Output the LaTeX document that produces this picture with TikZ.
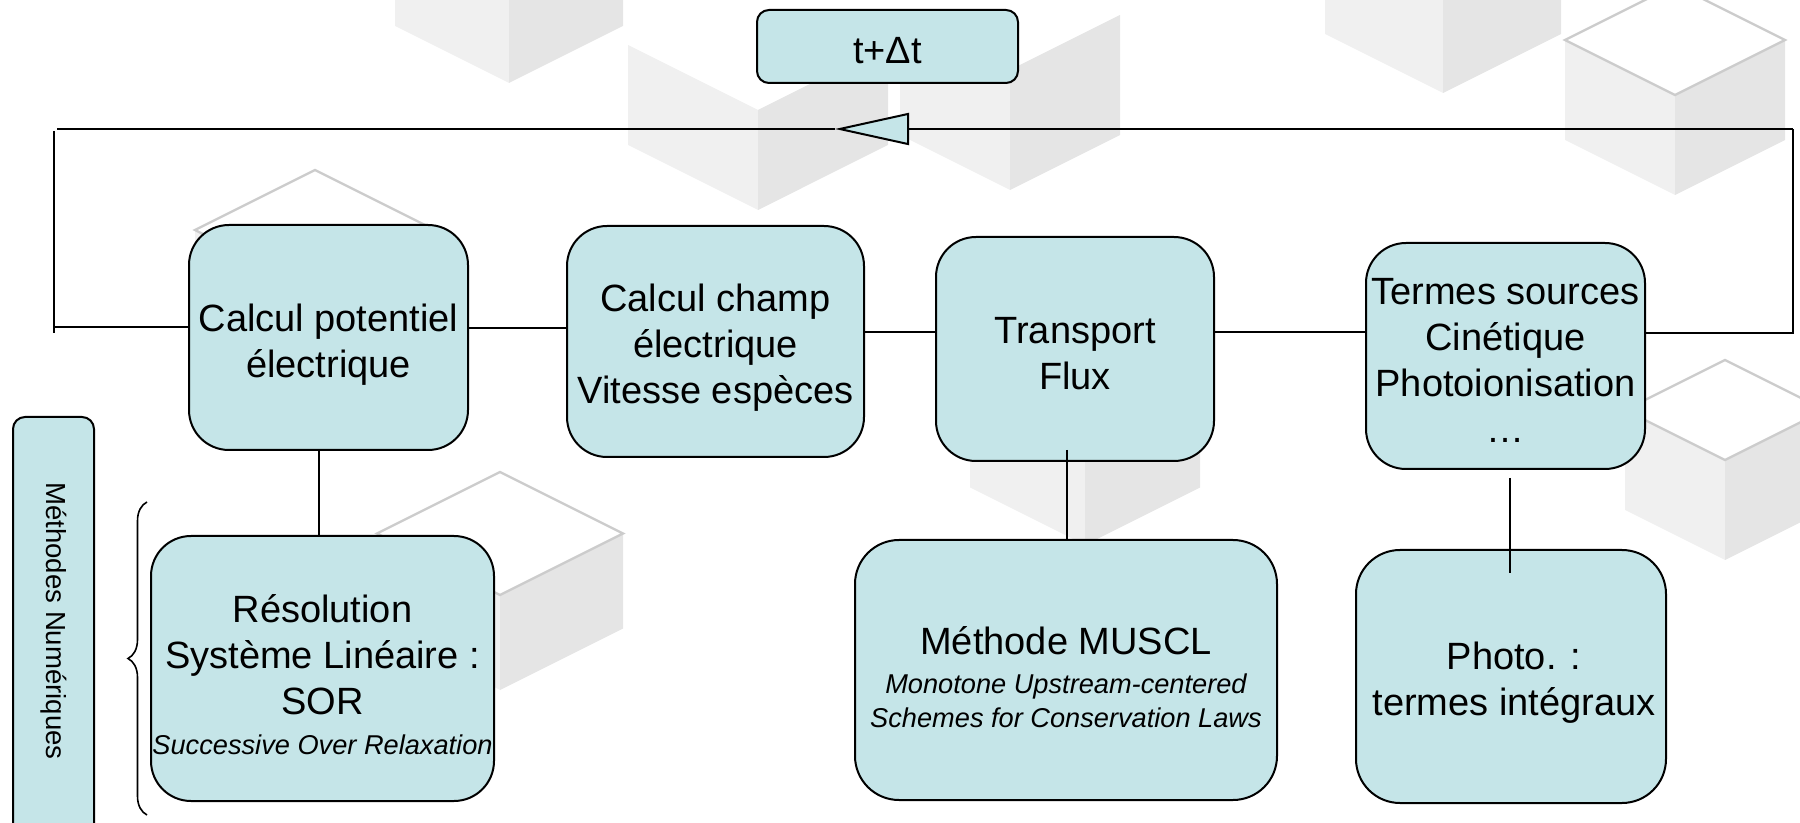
\documentclass[tikz,border=0pt]{standalone}
\usepackage{fontspec}
\setmainfont{Liberation Sans}
\usetikzlibrary{arrows.meta,decorations.pathreplacing}
\definecolor{boxblue}{RGB}{197,229,232}
\newcommand\bgcube[4]{%
  \fill[cubeL] ({#1-#3},{#2-0.5*#3}) -- ({#1-#3},{#2-0.5*#3-#4}) -- (#1,{#2-#4}) -- (#1,#2) -- cycle;
  \fill[cubeR] ({#1+#3},{#2-0.5*#3}) -- ({#1+#3},{#2-0.5*#3-#4}) -- (#1,{#2-#4}) -- (#1,#2) -- cycle;}
\newcommand\bgtop[4]{%
  \draw[cubeO] ({#1-#3},{#2-0.5*#3-#4}) -- (#1,{#2-#3-#4}) -- ({#1+#3},{#2-0.5*#3-#4}) -- (#1,{#2-#4}) -- cycle;}
\begin{document}
\begin{tikzpicture}[x=0.5pt,y=-0.5pt,
  box/.style={draw=black,line width=1pt,fill=boxblue,rounded corners=20pt,inner sep=0pt},
  txt/.style={align=center,font=\fontsize{19}{23}\selectfont,inner sep=0pt},
  wire/.style={line width=1pt},
  cubeL/.style={fill=black!6},
  cubeR/.style={fill=black!10},
  cubeO/.style={draw=black!20,line width=1.2pt}]
\useasboundingbox (0,0) rectangle (1800,823);
\clip (0,0) rectangle (1800,823);
% faint background cubes
\bgcube{509}{83}{114}{100}
\bgcube{758}{210}{130}{100}
\bgcube{1010}{190}{110}{120}
\bgcube{1443}{93}{118}{100}
\bgcube{1675}{195}{110}{100}\bgtop{1675}{195}{110}{100}
\bgcube{315}{400}{120}{110}\bgtop{315}{400}{120}{110}
\bgcube{500}{690}{123}{95}\bgtop{500}{690}{123}{95}
\bgcube{1725}{560}{100}{100}\bgtop{1725}{560}{100}{100}
\bgcube{1085}{545}{115}{100}
% boxes
\node[box,minimum width=130.5pt,minimum height=36.5pt,rounded corners=6pt] (tdt) at (887.5,46.5) {};
\node[box,minimum width=139.5pt,minimum height=112.5pt] (b1) at (328.5,337.5) {};
\node[box,minimum width=148.5pt,minimum height=115.5pt] (b2) at (715.5,341.5) {};
\node[box,minimum width=139pt,minimum height=112pt] (b3) at (1075,349) {};
\node[box,minimum width=139.5pt,minimum height=113pt] (b4) at (1505.5,356) {};
\node[box,minimum width=171.5pt,minimum height=132.5pt] (b5) at (322.5,668.5) {};
\node[box,minimum width=211pt,minimum height=130pt,rounded corners=22pt] (b6) at (1066,670) {};
\node[box,minimum width=155pt,minimum height=126.5pt,rounded corners=22pt] (b7) at (1511,676.5) {};
\node[box,minimum width=40.5pt,minimum height=216.5pt,rounded corners=6pt] (b8) at (53.5,633.5) {};
% texts
\node[txt] (t0) at (887.5,51) {t+Δt};
\node[txt] (t1) at (328.5,345) {Calcul potentiel\\électrique};
\node[txt] (t2) at (715.5,348) {Calcul champ\\électrique\\Vitesse espèces};
\node[txt] (t3) at (1075,354) {Transport\\Flux};
\node[txt] (t4) at (1505.5,360) {Termes sources\\Cinétique\\Photoionisation\\…};
\node[txt] (t5) at (322.5,675) {Résolution\\Système Linéaire :\\SOR\\[-3pt]{\fontsize{13.6}{16}\selectfont\itshape Successive Over Relaxation}};
\node[txt] (t6) at (1066,677) {Méthode MUSCL\\[-3.5pt]{\fontsize{13.6}{16}\selectfont\itshape Monotone Upstream-centered}\\[-6pt]{\fontsize{13.6}{16}\selectfont\itshape Schemes for Conservation Laws}};
\node[txt] (t7) at (1514,683) {Photo. :\\termes intégraux};
\node[inner sep=0pt,rotate=-90,font=\fontsize{13.8}{16}\selectfont] (t8) at (54,621) {Méthodes Numériques};
% coordinates for connectors
\coordinate (rtop) at (1793,129);
\coordinate (rbot) at (1793,333);
\coordinate (tip) at (835,129);
\coordinate (ltop) at (57,129);
\coordinate (lv1) at (54,131);
\coordinate (lv2) at (54,333);
\coordinate (lh) at (54,327);
\coordinate (yA) at (0,328);
\coordinate (yB) at (0,332);
\coordinate (yC) at (0,333);
\coordinate (xA) at (319,0);
\coordinate (m3a) at (1067,450);
\coordinate (m3b) at (1067,540);
\coordinate (m4a) at (1510,478);
\coordinate (m4b) at (1510,573);
\coordinate (brb) at (147,815);
\coordinate (brt) at (147,502);
% feedback loop
\draw[wire] (b4.east |- yC) -- (rbot) -- (rtop);
\draw[wire,-{Triangle[length=37pt,width=16pt,fill=boxblue]}] (rtop) -- (tip);
\draw[wire] (tip) -- (ltop);
\draw[wire] (lv1) -- (lv2);
\draw[wire] (lh) -- (b1.west |- lh);
% horizontal chain
\draw[wire] (b1.east |- yA) -- (b2.west |- yA);
\draw[wire] (b2.east |- yB) -- (b3.west |- yB);
\draw[wire] (b3.east |- yB) -- (b4.west |- yB);
% vertical links
\draw[wire] (b1.south -| xA) -- (b5.north -| xA);
\draw[wire] (m3a) -- (m3b);
\draw[wire] (m4a) -- (m4b);
% brace
\draw[line width=0.8pt,decorate,decoration={brace,amplitude=9.5pt}] (brb) -- (brt);
\end{tikzpicture}
\end{document}
